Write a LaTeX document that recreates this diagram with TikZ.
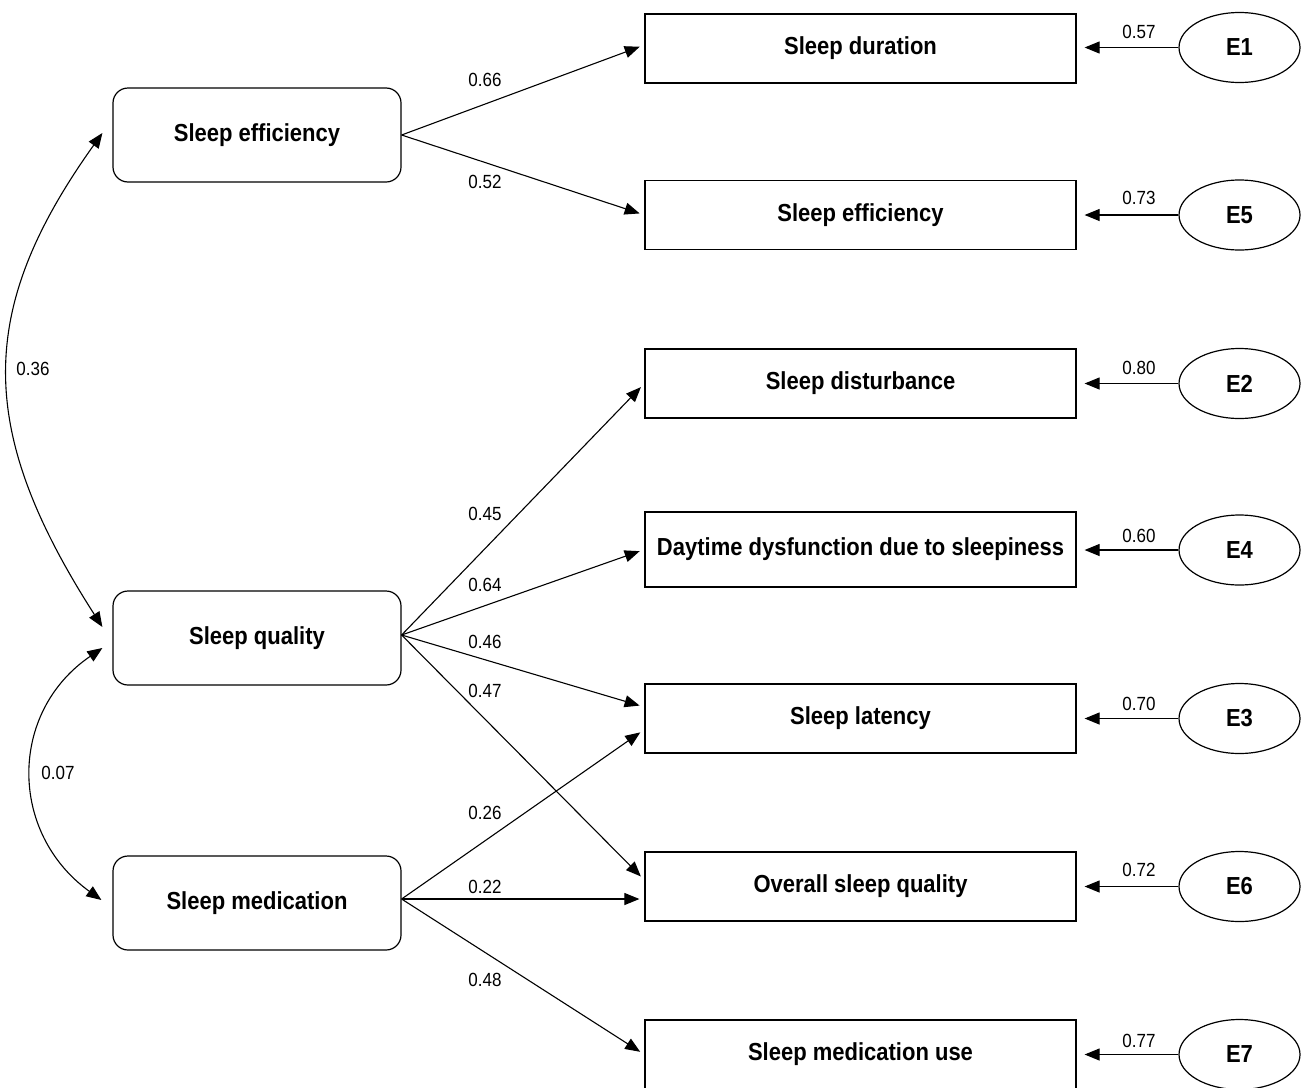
\documentclass[tikz,border=0pt]{standalone}
\usepackage{fontspec}
\usepackage{graphicx}
\setmainfont{Liberation Sans}
\usetikzlibrary{arrows.meta,shapes.geometric}
\newcommand{\tallt}[1]{\scalebox{1}[1.12]{#1}}
\begin{document}
\begin{tikzpicture}[x=1pt,y=-1pt,
  latbox/.style={draw,line width=1.2pt,rounded corners=15pt,minimum width=288pt,minimum height=94pt,inner sep=0pt,font=\fontsize{22}{26}\selectfont\bfseries},
  obsbox/.style={draw,line width=1.2pt,minimum width=431pt,minimum height=69pt,inner sep=0pt,font=\fontsize{22}{26}\selectfont\bfseries},
  errell/.style={draw,ellipse,line width=1.2pt,minimum width=121pt,minimum height=70pt,inner sep=0pt,font=\fontsize{22}{26}\selectfont\bfseries},
  lbl/.style={font=\fontsize{17}{20}\selectfont,inner sep=0pt},
  arr/.style={line width=1.1pt,-{Triangle[length=15pt,width=12pt]},shorten >=5pt},
  earr/.style={line width=1.1pt,-{Triangle[length=15pt,width=12pt]},shorten >=8pt},
  darr/.style={line width=1.1pt,{Triangle[length=15pt,width=12pt]}-{Triangle[length=15pt,width=12pt]}}
]
\useasboundingbox (0,0) rectangle (1305,1087);

% latent boxes
\node[latbox] (se) at (257,135) {\tallt{Sleep efficiency}};
\node[latbox] (sq) at (257,638) {\tallt{Sleep quality}};
\node[latbox] (sm) at (257,903) {\tallt{Sleep medication}};

% observed boxes
\node[obsbox] (rd) at (860.5,48.5) {\tallt{Sleep duration}};
\node[obsbox] (ref) at (860.5,215) {\tallt{Sleep efficiency}};
\node[obsbox] (rdist) at (860.5,383.5) {\tallt{Sleep disturbance}};
\node[obsbox,minimum height=75pt] (rday) at (860.5,549.5) {\tallt{Daytime dysfunction due to sleepiness}};
\node[obsbox] (rlat) at (860.5,718.5) {\tallt{Sleep latency}};
\node[obsbox] (rov) at (860.5,886.5) {\tallt{Overall sleep quality}};
\node[obsbox] (rmed) at (860.5,1054.5) {\tallt{Sleep medication use}};

% error ellipses
\node[errell] (e1) at (1239.5,47.5) {\tallt{E1}};
\node[errell] (e5) at (1239.5,215) {\tallt{E5}};
\node[errell] (e2) at (1239.5,383.5) {\tallt{E2}};
\node[errell] (e4) at (1239.5,550) {\tallt{E4}};
\node[errell] (e3) at (1239.5,718.5) {\tallt{E3}};
\node[errell] (e6) at (1239.5,886.5) {\tallt{E6}};
\node[errell] (e7) at (1239.5,1054.5) {\tallt{E7}};

% loadings
\draw[arr] (se.east) -- ([yshift=3.5pt]rd.west);
\draw[arr] (se.east) -- (ref.west);
\draw[arr] ([yshift=3pt]sq.east) -- (rdist.west);
\draw[arr] ([yshift=3pt]sq.east) -- (rday.west);
\draw[arr] ([yshift=3pt]sq.east) -- ([yshift=11.5pt]rlat.west);
\draw[arr] ([yshift=3pt]sq.east) -- ([yshift=6.5pt]rov.west);
\draw[arr] ([yshift=4pt]sm.east) -- ([yshift=-11pt]rlat.west);
\draw[arr] ([yshift=4pt]sm.east) -- ([yshift=-12.5pt]rov.west);
\draw[arr] ([yshift=4pt]sm.east) -- (rmed.west);

% error arrows
\draw[earr] (e1.west) -- (e1.west -| rd.east);
\draw[earr] (e5.west) -- (e5.west -| ref.east);
\draw[earr] (e2.west) -- (e2.west -| rdist.east);
\draw[earr] (e4.west) -- (e4.west -| rday.east);
\draw[earr] (e3.west) -- (e3.west -| rlat.east);
\draw[earr] (e6.west) -- (e6.west -| rov.east);
\draw[earr] (e7.west) -- (e7.west -| rmed.east);

% correlations
\draw[darr] ([xshift=-10pt,yshift=2pt]se.west) .. controls (-24,310) and (-24,430) .. ([xshift=-10pt,yshift=11pt]sq.west);
\draw[darr] ([xshift=-10pt,yshift=-10pt]sq.west) .. controls (8.5,712) and (8.5,833) .. ([xshift=-11pt,yshift=3pt]sm.west);

% labels
\node[lbl] (l066) at (485,80) {\tallt{0.66}};
\node[lbl] (l052) at (485,182) {\tallt{0.52}};
\node[lbl] (l045) at (485,514) {\tallt{0.45}};
\node[lbl] (l064) at (485,585) {\tallt{0.64}};
\node[lbl] (l046) at (485,642) {\tallt{0.46}};
\node[lbl] (l047) at (485,691) {\tallt{0.47}};
\node[lbl] (l026) at (485,813) {\tallt{0.26}};
\node[lbl] (l022) at (485,887) {\tallt{0.22}};
\node[lbl] (l048) at (485,980) {\tallt{0.48}};
\node[lbl] (l036) at (33,369) {\tallt{0.36}};
\node[lbl] (l007) at (58,773) {\tallt{0.07}};

\node[lbl] (l057) at (1139,32) {\tallt{0.57}};
\node[lbl] (l073) at (1139,198) {\tallt{0.73}};
\node[lbl] (l080) at (1139,368) {\tallt{0.80}};
\node[lbl] (l060) at (1139,536) {\tallt{0.60}};
\node[lbl] (l070) at (1139,704) {\tallt{0.70}};
\node[lbl] (l072) at (1139,870) {\tallt{0.72}};
\node[lbl] (l077) at (1139,1041) {\tallt{0.77}};
\end{tikzpicture}
\end{document}
